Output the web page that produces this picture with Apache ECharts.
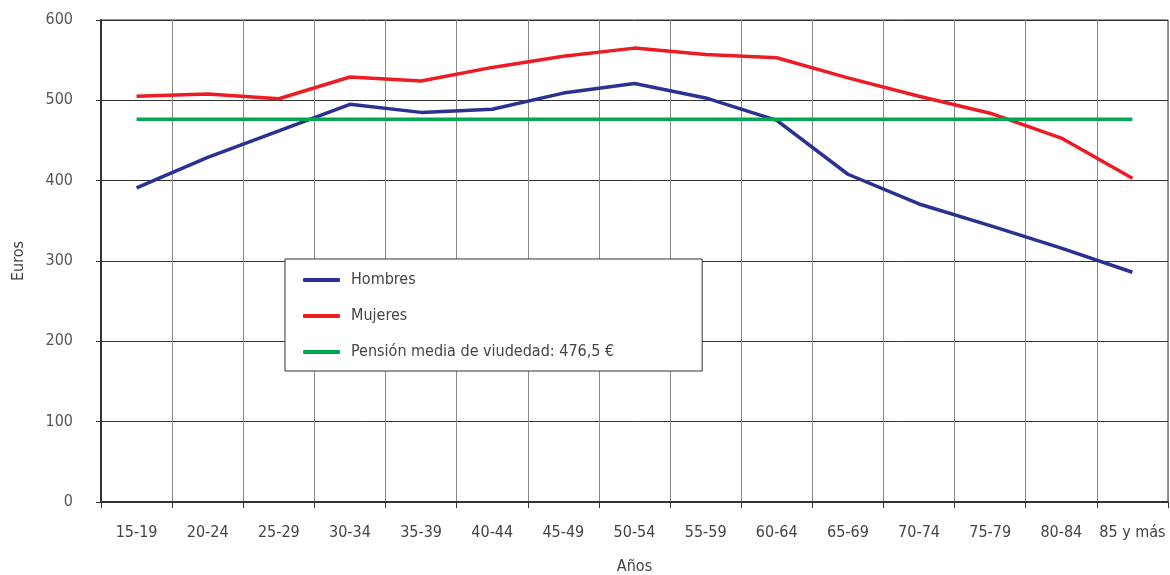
<!DOCTYPE html>
<html><head><meta charset="utf-8">
<script src="https://cdn.jsdelivr.net/npm/echarts@6/dist/echarts.min.js"></script>
<style>html,body{margin:0;padding:0;background:#fff}#c{width:1170px;height:575px}</style>
</head><body><div id="c"></div>
<script>
const categories = ['15-19','20-24','25-29','30-34','35-39','40-44','45-49','50-54','55-59','60-64','65-69','70-74','75-79','80-84','85 y más'];
const hombres = [391, 429, 462, 495, 485, 489, 509, 521, 503, 475, 408, 371, 344, 316, 286];
const mujeres = [505, 508, 502, 529, 524, 541, 555, 565, 557, 553, 528, 505, 484, 453, 403];
const pensionMedia = [476.5, 476.5, 476.5, 476.5, 476.5, 476.5, 476.5, 476.5, 476.5, 476.5, 476.5, 476.5, 476.5, 476.5, 476.5];
const yTicks = [0, 100, 200, 300, 400, 500, 600];

const FONT = '"Liberation Sans Narrow", "DejaVu Sans Condensed", "Liberation Sans", sans-serif';
const chart = echarts.init(document.getElementById('c'));
chart.setOption({
  animation: false,
  textStyle: { fontFamily: FONT },
  grid: { left: 101, right: 2, top: 20, bottom: 73, containLabel: false, outerBoundsMode: 'none',
    show: true, borderColor: '#333', borderWidth: 1, backgroundColor: 'transparent' },
  legend: {
    orient: 'vertical', left: 285, top: 259,
    backgroundColor: '#fff', borderColor: '#333', borderWidth: 1,
    padding: [13, 88, 11, 18], itemGap: 20,
    itemWidth: 37, itemHeight: 4, icon: 'roundRect',
    textStyle: { fontFamily: FONT, fontSize: 16, color: '#444', padding: [0, 0, 0, 6] },
    data: ['Hombres', 'Mujeres', 'Pensión media de viudedad: 476,5 €']
  },
  xAxis: {
    type: 'category', data: categories, boundaryGap: true,
    name: 'Años', nameLocation: 'middle', nameGap: 57,
    nameTextStyle: { fontFamily: FONT, fontSize: 16, color: '#444' },
    axisLine: { lineStyle: { color: '#333', width: 2 } },
    axisTick: { show: true, length: 6, lineStyle: { color: '#333' } },
    axisLabel: { fontFamily: FONT, fontSize: 16, color: '#444', margin: 23, interval: 0 },
    splitLine: { show: true, lineStyle: { color: '#888', width: 1 } }
  },
  yAxis: {
    type: 'value', min: 0, max: 600, interval: 100,
    name: 'Euros', nameLocation: 'middle', nameGap: 74, nameRotate: 90,
    nameTextStyle: { fontFamily: FONT, fontSize: 16, color: '#444' },
    axisLine: { show: true, lineStyle: { color: '#333', width: 2 } },
    axisTick: { show: true, length: 5, lineStyle: { color: '#333' } },
    axisLabel: { fontFamily: FONT, fontSize: 16, color: '#555', margin: 28,
      formatter: v => yTicks.includes(v) ? String(v) : '' },
    splitLine: { show: true, lineStyle: { color: '#333', width: 1 } }
  },
  series: [
    { name: 'Hombres', type: 'line', data: hombres, showSymbol: false, symbol: 'none',
      lineStyle: { color: '#2B3192', width: 3.5 }, itemStyle: { color: '#2B3192' } },
    { name: 'Mujeres', type: 'line', data: mujeres, showSymbol: false, symbol: 'none',
      lineStyle: { color: '#ED1C24', width: 3.5 }, itemStyle: { color: '#ED1C24' } },
    { name: 'Pensión media de viudedad: 476,5 €', type: 'line', data: pensionMedia, showSymbol: false, symbol: 'none',
      lineStyle: { color: '#00A650', width: 3.5 }, itemStyle: { color: '#00A650' } }
  ]
});
</script></body></html>
